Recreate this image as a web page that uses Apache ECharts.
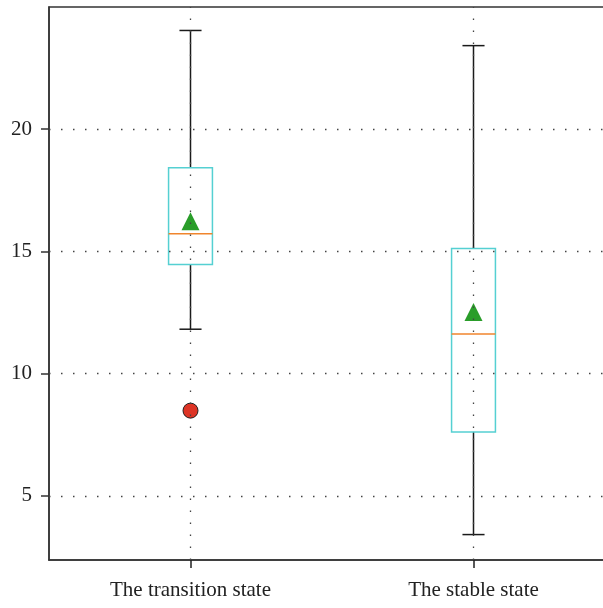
<!DOCTYPE html>
<html>
<head>
<meta charset="utf-8">
<script src="https://cdn.jsdelivr.net/npm/echarts@6/dist/echarts.min.js"></script>
<style>html,body{margin:0;padding:0;background:#fff;}#c{width:603px;height:608px;}</style>
</head>
<body>
<div id="c"></div>
<script>
var categories = ['The transition state', 'The stable state'];
var whiskerLow = [11.82, 3.42];
var q1 = [14.47, 7.62];
var median = [15.72, 11.62];
var q3 = [18.42, 15.12];
var whiskerHigh = [24.04, 23.42];
var means = [16.24, 12.52];
var outliers = [[0, 8.49]];
var yTicks = [5, 10, 15, 20];

var boxData = categories.map(function (c, i) {
  return [i, whiskerLow[i], q1[i], median[i], q3[i], whiskerHigh[i]];
});

var FONT = 'Liberation Serif';
var chart = echarts.init(document.getElementById('c'), null, {renderer: 'canvas'});

function renderBox(params, api) {
  var x = api.value(0);
  var band = api.size([1, 0])[0];
  var bw = band * 0.155;
  var cw = band * 0.078;
  var pLow = api.coord([x, api.value(1)]);
  var pQ1 = api.coord([x, api.value(2)]);
  var pMed = api.coord([x, api.value(3)]);
  var pQ3 = api.coord([x, api.value(4)]);
  var pHigh = api.coord([x, api.value(5)]);
  var cx = pMed[0];
  var black = {stroke: '#1a1a1a', lineWidth: 1.5};
  return {
    type: 'group',
    children: [
      {type: 'line', shape: {x1: cx, y1: pLow[1], x2: cx, y2: pQ1[1]}, style: black},
      {type: 'line', shape: {x1: cx, y1: pQ3[1], x2: cx, y2: pHigh[1]}, style: black},
      {type: 'line', shape: {x1: cx - cw / 2, y1: pLow[1], x2: cx + cw / 2, y2: pLow[1]}, style: black},
      {type: 'line', shape: {x1: cx - cw / 2, y1: pHigh[1], x2: cx + cw / 2, y2: pHigh[1]}, style: black},
      {type: 'rect', shape: {x: cx - bw / 2, y: pQ3[1], width: bw, height: pQ1[1] - pQ3[1]},
        style: {fill: 'none', stroke: '#55d0d2', lineWidth: 1.5}},
      {type: 'line', shape: {x1: cx - bw / 2, y1: pMed[1], x2: cx + bw / 2, y2: pMed[1]},
        style: {stroke: '#f0852d', lineWidth: 1.5}}
    ]
  };
}

var dotted = {color: '#444', width: 1.3, type: [1.5, 10.5]};

chart.setOption({
  animation: false,
  backgroundColor: '#fff',
  grid: {left: 49, top: 7, height: 553, width: 566, outerBoundsMode: 'none', containLabel: false,
    show: true, borderColor: '#333', borderWidth: 1.5, backgroundColor: 'transparent'},
  xAxis: {
    type: 'category',
    data: categories,
    boundaryGap: true,
    axisLine: {lineStyle: {color: '#333', width: 1.5}},
    axisTick: {show: true, alignWithLabel: true, length: 8, lineStyle: {color: '#222', width: 1.5}},
    axisLabel: {color: '#222', fontFamily: FONT, fontSize: 21, margin: 20},
    splitLine: {show: false}
  },
  yAxis: {
    type: 'value',
    min: 2.38,
    max: 25,
    axisLine: {show: true, lineStyle: {color: '#333', width: 1.5}},
    axisTick: {show: true, length: 8, customValues: yTicks, lineStyle: {color: '#333', width: 1.5}},
    axisLabel: {color: '#222', fontFamily: FONT, fontSize: 21, margin: 17, customValues: yTicks},
    splitLine: {show: false}
  },
  series: [
    {
      type: 'scatter',
      data: [],
      silent: true,
      markLine: {
        silent: true,
        symbol: 'none',
        label: {show: false},
        lineStyle: dotted,
        data: yTicks.map(function (v) { return {yAxis: v}; })
          .concat(categories.map(function (c) { return {xAxis: c}; }))
      }
    },
    {
      type: 'custom',
      renderItem: renderBox,
      data: boxData,
      encode: {x: 0, y: [1, 2, 3, 4, 5]},
      z: 3
    },
    {
      type: 'scatter',
      data: means.map(function (v, i) { return [i, v]; }),
      symbol: 'triangle',
      symbolSize: 18,
      itemStyle: {color: '#2a9d2a', opacity: 1},
      z: 4
    },
    {
      type: 'scatter',
      data: outliers,
      symbol: 'circle',
      symbolSize: 15,
      itemStyle: {color: '#dd3425', borderColor: '#222', borderWidth: 1, opacity: 1},
      z: 4
    }
  ]
});
</script>
</body>
</html>
